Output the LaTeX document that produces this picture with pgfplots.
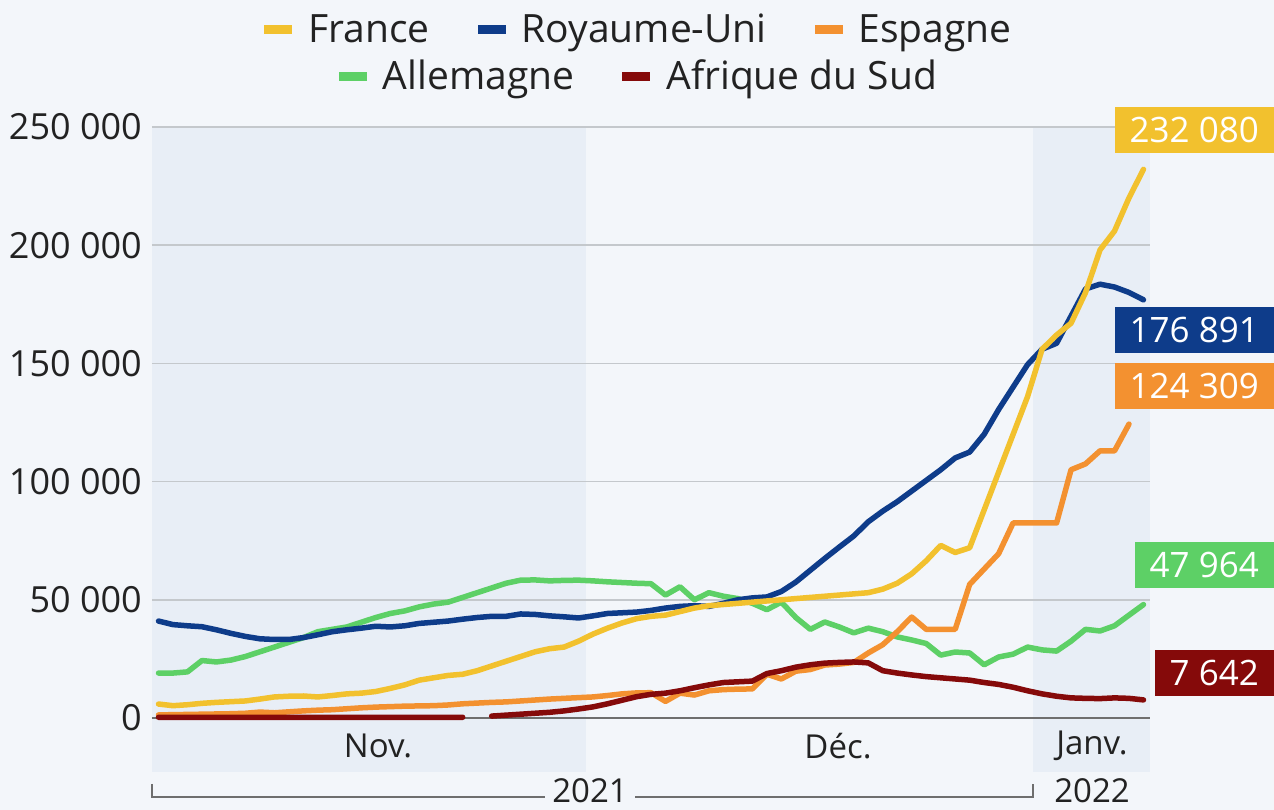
\documentclass[border=0pt]{standalone}
\usepackage{pgfplots}
\pgfplotsset{compat=1.18}
\usepackage{fontspec}
\setmainfont{Open Sans}
\definecolor{fr}{HTML}{F2C12E}
\definecolor{uk}{HTML}{0E3C8A}
\definecolor{es}{HTML}{F39130}
\definecolor{de}{HTML}{5DD066}
\definecolor{za}{HTML}{850A0A}
\definecolor{bgc}{HTML}{F3F6FA}
\definecolor{shadec}{HTML}{E8EEF6}
\definecolor{gridc}{HTML}{C4C8CC}
\definecolor{zeroc}{HTML}{6E6E6E}
\definecolor{txt}{HTML}{222222}
\begin{document}
\begin{tikzpicture}
\begin{axis}[
 at={(0,0)}, anchor=south west,
 scale only axis, width=998pt, height=645pt,
 xmin=-0.45, xmax=68.45, ymin=-22850, ymax=250000,
 axis line style={draw=none}, xtick=\empty,
 scaled y ticks=false,
 ytick={50000,100000,150000,200000,250000},
 yticklabels={{50 000},{100 000},{150 000},{200 000},{250 000}},
 extra y ticks={0}, extra y tick labels={0},
 extra y tick style={grid style={draw=zeroc, line width=2pt}},
 ymajorgrids, grid style={draw=gridc, line width=1.5pt},
 major tick length=0pt,
 yticklabel style={font=\fontsize{36}{36}\selectfont, text=txt, anchor=east, inner sep=0pt, xshift=-10pt},
 clip=false,
 set layers,
 unbounded coords=jump,
 every axis plot/.append style={line width=5.5pt, line join=round, line cap=round},
]
\begin{pgfonlayer}{axis background}
\fill[bgc] ([shift={(-152pt,-38pt)}]rel axis cs:0,0) rectangle ([shift={(124pt,127pt)}]rel axis cs:1,1);
\fill[shadec] (axis cs:-0.45,-22850) rectangle (axis cs:29.5,250000);
\fill[shadec] (axis cs:60.4,-22850) rectangle (axis cs:68.45,250000);
\end{pgfonlayer}
% Allemagne
\addplot[de] coordinates {
(0,19000)(1,19000)(2,19500)(3,24300)(4,23700)(5,24500)(6,26000)(7,28000)(8,30000)(9,32000)
(10,34000)(11,36500)(12,37500)(13,38500)(14,40500)(15,42500)(16,44200)(17,45300)(18,47000)(19,48200)
(20,49000)(21,51000)(22,53000)(23,55000)(24,57000)(25,58300)(26,58400)(27,58000)(28,58200)(29,58300)
(30,58000)(31,57600)(32,57300)(33,57000)(34,56800)(35,52000)(36,55500)(37,50000)(38,53000)(39,51500)
(40,50500)(41,48500)(42,45800)(43,49000)(44,42500)(45,37500)(46,40600)(47,38500)(48,36000)(49,38000)
(50,36500)(51,34300)(52,33000)(53,31500)(54,26600)(55,27900)(56,27500)(57,22500)(58,25800)(59,27000)
(60,30000)(61,28800)(62,28300)(63,32500)(64,37500)(65,36800)(66,39000)(67,43500)(68,47964)
};
% Espagne
\addplot[es] coordinates {
(0,1300)(1,1400)(2,1500)(3,1600)(4,1700)(5,1800)(6,2000)(7,2500)(8,2200)(9,2600)
(10,3000)(11,3300)(12,3500)(13,3900)(14,4300)(15,4600)(16,4800)(17,5000)(18,5100)(19,5200)
(20,5500)(21,6000)(22,6300)(23,6600)(24,6800)(25,7200)(26,7600)(27,8000)(28,8300)(29,8600)
(30,8900)(31,9500)(32,10200)(33,10600)(34,10700)(35,7000)(36,10500)(37,9700)(38,11500)(39,12000)
(40,12200)(41,12300)(42,18500)(43,16500)(44,19800)(45,20500)(46,22400)(47,22800)(48,23500)(49,27500)
(50,31000)(51,36500)(52,42700)(53,37500)(54,37500)(55,37500)(56,56500)(57,63000)(58,69500)(59,82500)
(60,82500)(61,82500)(62,82500)(63,105000)(64,107500)(65,113000)(66,113000)(67,124309)
};
% Afrique du Sud
\addplot[za] coordinates {
(0,300)(1,300)(2,300)(3,300)(4,300)(5,300)(6,300)(7,300)(8,300)(9,300)
(10,300)(11,300)(12,300)(13,300)(14,300)(15,300)(16,300)(17,300)(18,300)(19,300)
(20,300)(21,300)(22,nan)(23,800)(24,1200)(25,1600)(26,2000)(27,2400)(28,3000)(29,3800)
(30,4700)(31,6000)(32,7500)(33,9000)(34,10000)(35,10500)(36,11500)(37,12800)(38,14000)(39,15000)
(40,15300)(41,15600)(42,18800)(43,20000)(44,21500)(45,22500)(46,23200)(47,23500)(48,23700)(49,23300)
(50,20000)(51,19000)(52,18200)(53,17500)(54,17000)(55,16500)(56,16000)(57,15000)(58,14200)(59,13000)
(60,11500)(61,10200)(62,9200)(63,8500)(64,8300)(65,8200)(66,8500)(67,8300)(68,7642)
};
% Royaume-Uni
\addplot[uk] coordinates {
(0,41000)(1,39500)(2,39000)(3,38600)(4,37300)(5,35800)(6,34500)(7,33500)(8,33200)(9,33200)
(10,34000)(11,35200)(12,36500)(13,37300)(14,38000)(15,38800)(16,38500)(17,39000)(18,40000)(19,40500)
(20,41000)(21,41800)(22,42500)(23,43000)(24,43000)(25,44000)(26,43800)(27,43200)(28,42800)(29,42300)
(30,43200)(31,44200)(32,44500)(33,44800)(34,45500)(35,46500)(36,47200)(37,47500)(38,47200)(39,48500)
(40,50000)(41,50800)(42,51200)(43,53500)(44,57500)(45,62500)(46,67500)(47,72300)(48,77000)(49,83000)
(50,87500)(51,91500)(52,96000)(53,100500)(54,105000)(55,110000)(56,112500)(57,120000)(58,130500)(59,140000)
(60,149500)(61,156000)(62,158500)(63,170000)(64,181500)(65,183500)(66,182300)(67,180000)(68,176891)
};
% France
\addplot[fr] coordinates {
(0,5900)(1,5200)(2,5600)(3,6200)(4,6600)(5,6900)(6,7200)(7,8000)(8,8900)(9,9200)
(10,9300)(11,8900)(12,9500)(13,10200)(14,10500)(15,11200)(16,12500)(17,14000)(18,16000)(19,17000)
(20,18000)(21,18500)(22,20000)(23,22000)(24,24000)(25,26000)(26,28000)(27,29300)(28,30000)(29,32500)
(30,35500)(31,38000)(32,40200)(33,42000)(34,43000)(35,43500)(36,45000)(37,46500)(38,47500)(39,48000)
(40,48500)(41,49000)(42,49500)(43,50000)(44,50500)(45,51000)(46,51500)(47,52000)(48,52500)(49,53000)
(50,54500)(51,57000)(52,61000)(53,66500)(54,73000)(55,70000)(56,72000)(57,88000)(58,104000)(59,120000)
(60,136000)(61,156000)(62,162000)(63,167000)(64,180000)(65,198000)(66,206000)(67,220000)(68,232080)
};
\end{axis}
% value labels
\begin{scope}[every node/.style={anchor=east, text=white, font=\fontsize{35}{35}\selectfont, inner xsep=15pt, minimum height=46pt, inner ysep=0pt}]
\node[fill=fr] at (1122pt,642pt) {232 080};
\node[fill=uk] at (1122pt,442pt) {176 891};
\node[fill=es] at (1122pt,386pt) {124 309};
\node[fill=de] at (1122pt,207pt) {47 964};
\node[fill=za] at (1122pt,99pt) {7 642};
\end{scope}
% month labels
\begin{scope}[every node/.style={text=txt, font=\fontsize{33}{33}\selectfont, inner sep=0pt}]
\node at (226pt,26pt) {Nov.};
\node at (686pt,26pt) {Déc.};
\node at (940pt,26pt) {Janv.};
\node at (438pt,-19pt) {2021};
\node at (940pt,-19pt) {2022};
\end{scope}
\draw[zeroc, line width=1.5pt] (0pt,-12pt) -- (0pt,-25pt) -- (393pt,-25pt);
\draw[zeroc, line width=1.5pt] (483pt,-25pt) -- (881pt,-25pt) -- (881pt,-12pt);
% legend
\node[text=txt, font=\fontsize{39}{47}\selectfont, align=center, inner sep=0pt] at (486pt,716pt) {%
\textcolor{fr}{\rule[8pt]{28pt}{9pt}}\hspace{16pt}France\hspace{48pt}%
\textcolor{uk}{\rule[8pt]{28pt}{9pt}}\hspace{16pt}Royaume-Uni\hspace{48pt}%
\textcolor{es}{\rule[8pt]{28pt}{9pt}}\hspace{16pt}Espagne\\
\textcolor{de}{\rule[8pt]{28pt}{9pt}}\hspace{16pt}Allemagne\hspace{48pt}%
\textcolor{za}{\rule[8pt]{28pt}{9pt}}\hspace{16pt}Afrique du Sud};
\pgfresetboundingbox
\useasboundingbox (-152pt,-38pt) rectangle (1122pt,772pt);
\end{tikzpicture}
\end{document}
